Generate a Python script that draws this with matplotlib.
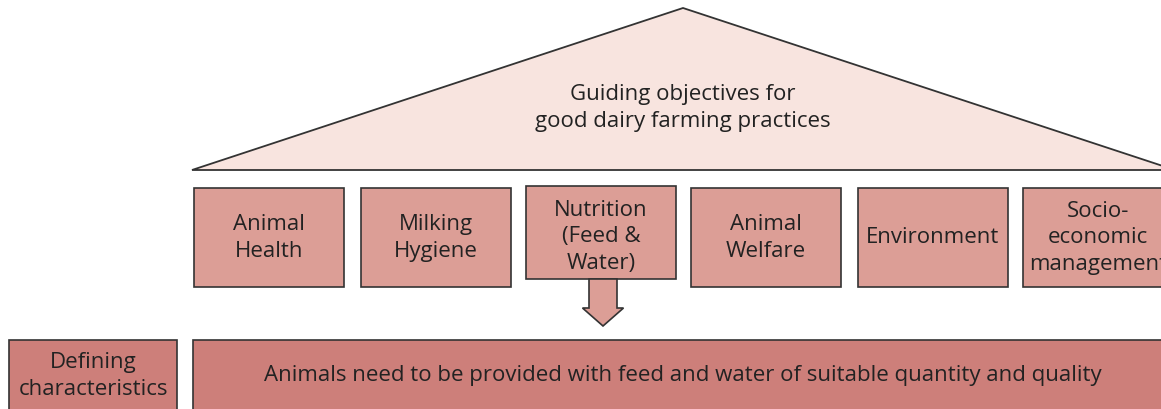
import matplotlib
matplotlib.use("Agg")
import matplotlib.pyplot as plt
from matplotlib.patches import Polygon, Rectangle

# ---- content ----
roof_text = "Guiding objectives for\ngood dairy farming practices"
objectives = ["Animal\nHealth", "Milking\nHygiene", "Nutrition\n(Feed &\nWater)",
              "Animal\nWelfare", "Environment", "Socio-\neconomic\nmanagement"]
defining_label = "Defining\ncharacteristics"
defining_text = "Animals need to be provided with feed and water of suitable quantity and quality"
highlight_index = 2

# ---- layout (pixels) ----
W, H = 1161, 410
roof_color = "#F8E4DF"
box_color = "#DC9E96"
bottom_color = "#CD7F7A"
edge = "#333333"
txt = "#222222"
font = ["Open Sans", "DejaVu Sans"]
fs = 16

fig = plt.figure(figsize=(W / 100, H / 100), dpi=100)
ax = fig.add_axes([0, 0, 1, 1])
ax.set_xlim(0, W)
ax.set_ylim(H, 0)
ax.axis("off")

# roof
roof = Polygon([(192, 171), (683, 9), (1175, 171)], closed=True,
               facecolor=roof_color, edgecolor=edge, lw=1.3)
ax.add_patch(roof)
ax.text(683, 108, roof_text, ha="center", va="center", fontsize=fs,
        family=font, color=txt, linespacing=1.4)

# objective boxes
lefts = [194, 361, 526, 691, 858, 1023]
bw = 150
for i, (lab, x0) in enumerate(zip(objectives, lefts)):
    if i == highlight_index:
        y0, y1 = 187, 280
        yc = 237
    else:
        y0, y1 = 189, 288
        yc = 238
    ax.add_patch(Rectangle((x0, y0), bw, y1 - y0, facecolor=box_color,
                           edgecolor=edge, lw=1.2))
    ax.text(x0 + bw / 2, yc, lab, ha="center", va="center",
            fontsize=fs, family=font, color=txt, linespacing=1.32)

# arrow
cx = lefts[highlight_index] + bw / 2 + 2
shaft_w = 28
head_w = 41
ax.add_patch(Polygon([(cx - shaft_w / 2, 280), (cx + shaft_w / 2, 280),
                      (cx + shaft_w / 2, 309), (cx + head_w / 2, 309),
                      (cx, 327), (cx - head_w / 2, 309),
                      (cx - shaft_w / 2, 309)], closed=True,
                     facecolor=box_color, edgecolor=edge, lw=1.2))

# bottom row
ax.add_patch(Rectangle((9, 341), 168, 80, facecolor=bottom_color,
                       edgecolor=edge, lw=1.2))
ax.text(93, 376, defining_label, ha="center", va="center", fontsize=fs,
        family=font, color=txt, linespacing=1.32)
ax.add_patch(Rectangle((193, 341), 990, 80, facecolor=bottom_color,
                       edgecolor=edge, lw=1.2))
ax.text(683, 376, defining_text, ha="center", va="center", fontsize=fs,
        family=font, color=txt)

fig.savefig("out.png", dpi=100)
